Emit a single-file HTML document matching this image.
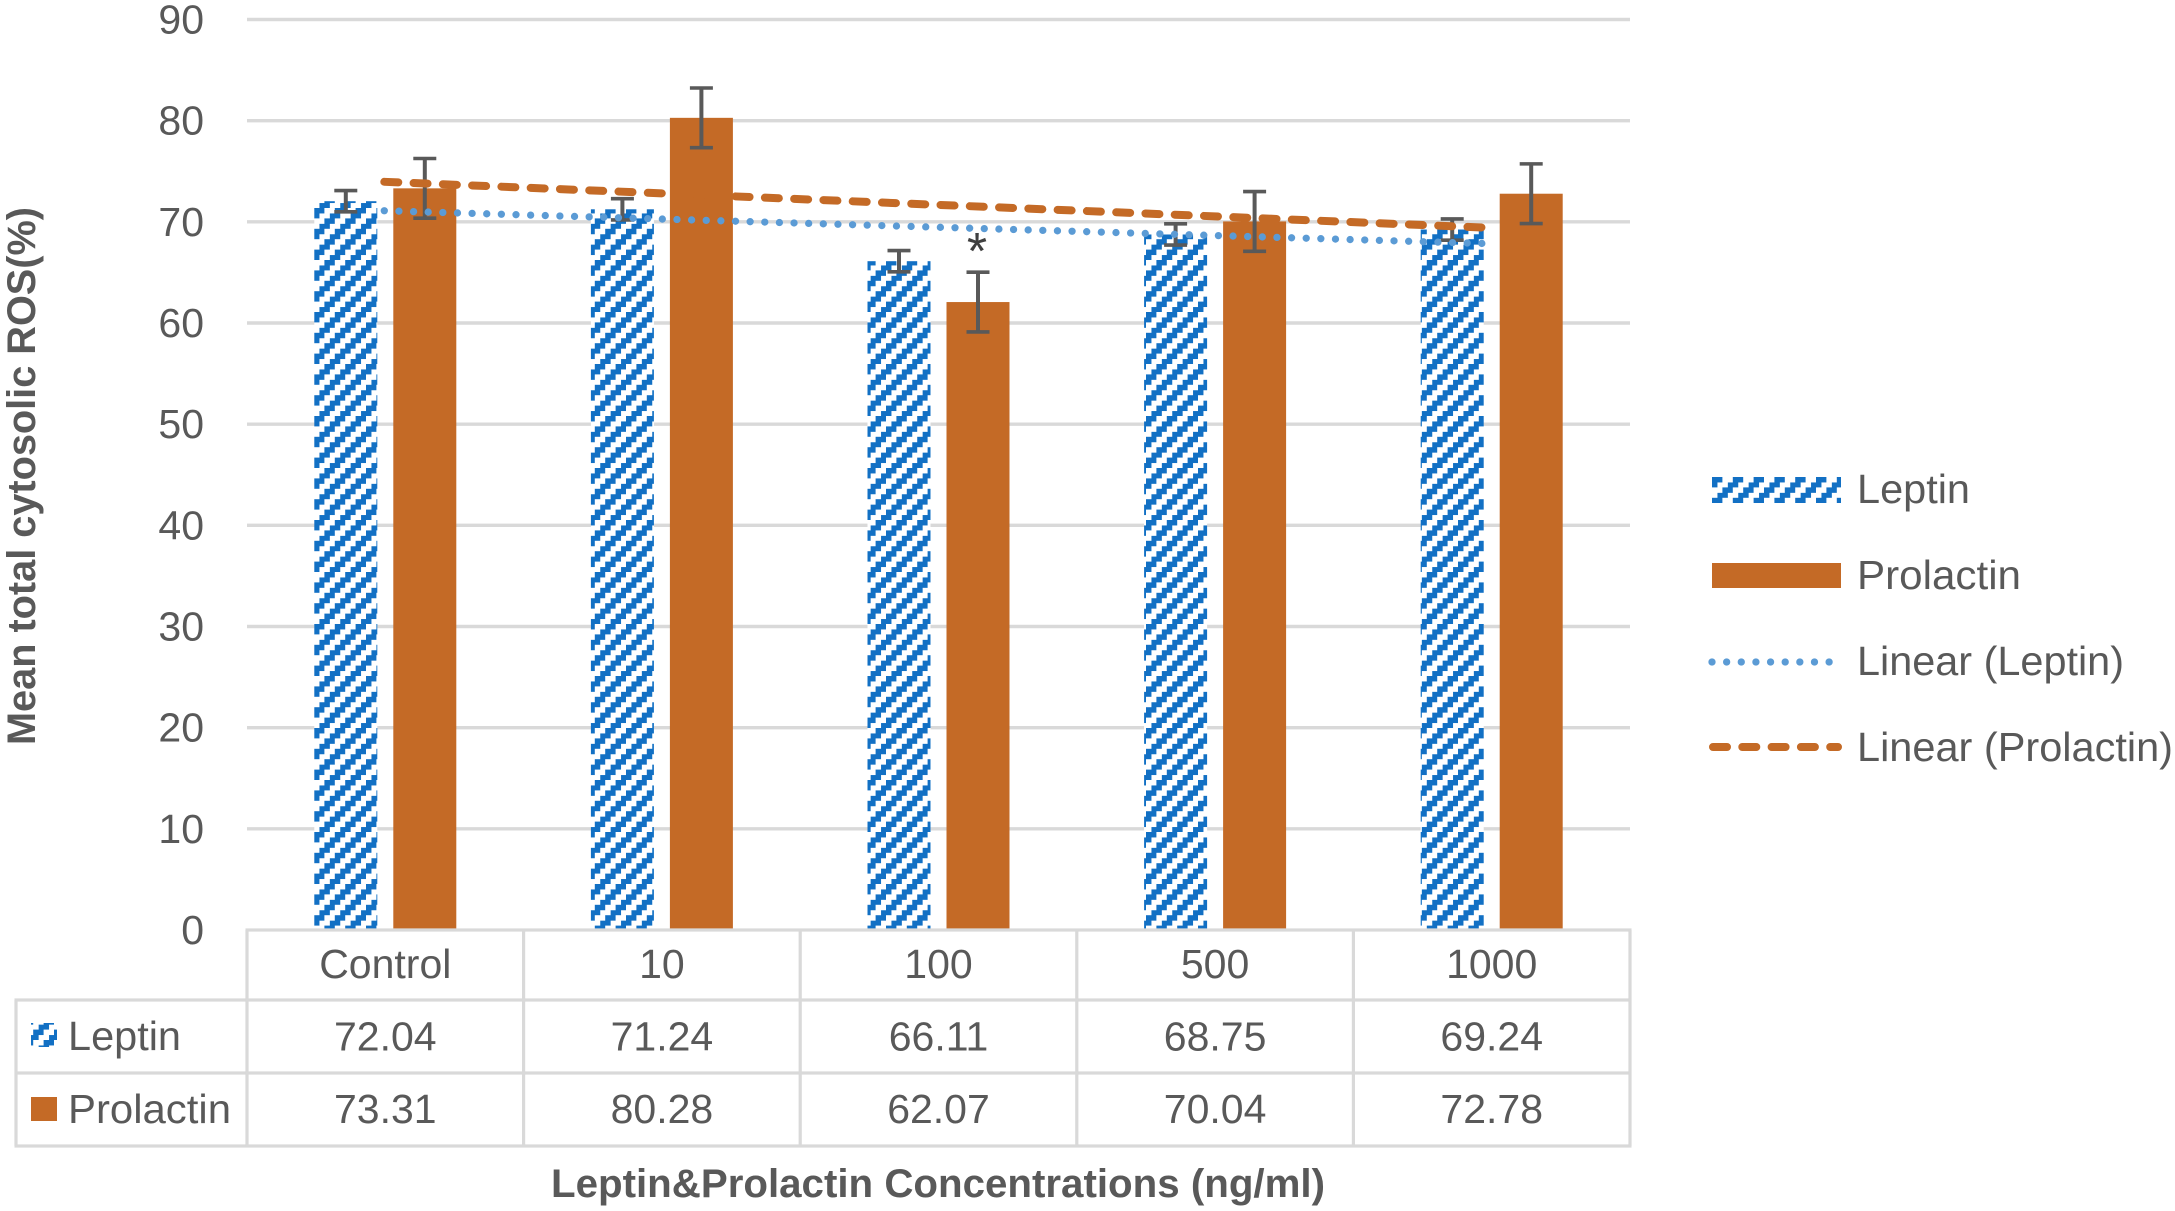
<!DOCTYPE html>
<html lang="en">
<head>
<meta charset="utf-8">
<title>Mean total cytosolic ROS chart</title>
<style>
  html, body { margin: 0; padding: 0; background: #ffffff; }
  svg { display: block; }
  text { font-family: "Liberation Sans", sans-serif; fill: #595959; font-size: 41px; }
  .bold { font-weight: 700; }
</style>
</head>
<body>
<svg id="chart" width="2175" height="1211" viewBox="0 0 2175 1211" xmlns="http://www.w3.org/2000/svg">
  <defs>
    <pattern id="hatch" patternUnits="userSpaceOnUse" x="314" y="0" width="20.8" height="20.8">
      <rect width="20.8" height="20.8" fill="#ffffff"/>
      <g fill="#1270c4" shape-rendering="crispEdges">
        <rect x="0" y="0" width="5.2" height="5.2"/><rect x="5.2" y="0" width="5.2" height="5.2"/>
        <rect x="15.6" y="5.2" width="5.2" height="5.2"/><rect x="0" y="5.2" width="5.2" height="5.2"/>
        <rect x="10.4" y="10.4" width="5.2" height="5.2"/><rect x="15.6" y="10.4" width="5.2" height="5.2"/>
        <rect x="5.2" y="15.6" width="5.2" height="5.2"/><rect x="10.4" y="15.6" width="5.2" height="5.2"/>
      </g>
    </pattern>
    <pattern id="hatch-legend" patternUnits="userSpaceOnUse" x="1712" y="477" width="20.8" height="20.8">
      <rect width="20.8" height="20.8" fill="#ffffff"/>
      <g fill="#1270c4" shape-rendering="crispEdges">
        <rect x="0" y="0" width="5.2" height="5.2"/><rect x="5.2" y="0" width="5.2" height="5.2"/>
        <rect x="15.6" y="5.2" width="5.2" height="5.2"/><rect x="0" y="5.2" width="5.2" height="5.2"/>
        <rect x="10.4" y="10.4" width="5.2" height="5.2"/><rect x="15.6" y="10.4" width="5.2" height="5.2"/>
        <rect x="5.2" y="15.6" width="5.2" height="5.2"/><rect x="10.4" y="15.6" width="5.2" height="5.2"/>
      </g>
    </pattern>
  </defs>

  <g id="grid"></g>
  <g id="yticks"></g>
  <g id="bars"></g>
  <g id="errors"></g>
  <g id="trends"></g>
  <g id="table"></g>

  <text x="977" y="269" text-anchor="middle" style="font-size:52px;fill:#404040">*</text>

  <rect x="31" y="1023" width="26" height="24" fill="url(#hatch)"/>
  <rect x="31" y="1097" width="26" height="24" fill="#c46a26"/>
  <text x="68" y="1050" textLength="113" lengthAdjust="spacingAndGlyphs">Leptin</text>
  <text x="68" y="1123" textLength="163" lengthAdjust="spacingAndGlyphs">Prolactin</text>

  <text class="bold" transform="translate(35,745) rotate(-90)" textLength="538" lengthAdjust="spacingAndGlyphs" style="font-size:40px">Mean total cytosolic ROS(%)</text>
  <text class="bold" x="551" y="1197" textLength="774" lengthAdjust="spacingAndGlyphs" style="font-size:40px">Leptin&amp;Prolactin Concentrations (ng/ml)</text>

  <g>
    <g>
      <rect x="1712" y="477" width="129" height="26" fill="url(#hatch-legend)"/>
      <text x="1857" y="503" textLength="113" lengthAdjust="spacingAndGlyphs">Leptin</text>
    </g>
    <g>
      <rect x="1712" y="563" width="129" height="25" fill="#c46a26"/>
      <text x="1857" y="589" textLength="164" lengthAdjust="spacingAndGlyphs">Prolactin</text>
    </g>
    <g>
      <line x1="1712" y1="662" x2="1832" y2="662" stroke="#5b9bd5" stroke-width="7.3" stroke-linecap="round" stroke-dasharray="0 14.64"/>
      <text x="1857" y="675" textLength="267" lengthAdjust="spacingAndGlyphs">Linear (Leptin)</text>
    </g>
    <g>
      <line x1="1713" y1="747" x2="1838" y2="747" stroke="#c46a26" stroke-width="8" stroke-linecap="round" stroke-dasharray="14 15.3"/>
      <text x="1857" y="761" textLength="316" lengthAdjust="spacingAndGlyphs">Linear (Prolactin)</text>
    </g>
  </g>
</svg>

<script>
var categories = ["Control", "10", "100", "500", "1000"];
var leptinValues = [72.04, 71.24, 66.11, 68.75, 69.24];
var prolactinValues = [73.31, 80.28, 62.07, 70.04, 72.78];
var leptinErrors = [1.05, 1.05, 1.05, 1.05, 1.05];
var prolactinErrors = [2.95, 2.95, 2.95, 2.95, 2.95];
var yTickValues = [0, 10, 20, 30, 40, 50, 60, 70, 80, 90];

var NS = "http://www.w3.org/2000/svg";
var plotLeft = 247, plotRight = 1630, plotBottom = 930, plotTop = 19.5, yMax = 90;
var barWidth = 63, barOffset = 39.5, capHalf = 11.5;

function yScale(v) { return plotBottom - (v / yMax) * (plotBottom - plotTop); }
function colWidth() { return (plotRight - plotLeft) / categories.length; }
function xCenter(i) { return plotLeft + colWidth() * (i + 0.5); }
function make(tag, parent) {
  var el = document.createElementNS(NS, tag);
  parent.appendChild(el);
  return el;
}
function setAll(el, props) {
  for (var k in props) { el.setAttribute(k, props[k]); }
}
function regression(values) {
  var n = values.length, mx = (n - 1) / 2, my = 0, sxy = 0, sxx = 0;
  values.forEach(function (v) { my += v / n; });
  values.forEach(function (v, i) { sxy += (i - mx) * (v - my); sxx += (i - mx) * (i - mx); });
  var slope = sxy / sxx;
  return function (i) { return my + slope * (i - mx); };
}

var gridG = document.getElementById("grid");
var tickG = document.getElementById("yticks");
yTickValues.forEach(function (t) {
  if (t !== 0) {
    var ln = make("line", gridG);
    
    
    setAll(ln, { x1: plotLeft, x2: plotRight, y1: yScale(t), y2: yScale(t), stroke: "#d9d9d9", "stroke-width": 3.4 });
  }
  var tx = make("text", tickG);
  
  
  setAll(tx, { x: 204, y: yScale(t) + 14, "text-anchor": "end" });
  tx.textContent = String(t);
});

var barsG = document.getElementById("bars");
var errG = document.getElementById("errors");

function drawError(cx, value, err, name) {
  var g = make("g", errG);
  
  
  var y1 = yScale(value + err), y2 = yScale(value - err);
  var stem = make("line", g);
  setAll(stem, { x1: cx, x2: cx, y1: y1, y2: y2, stroke: "#595959", "stroke-width": 4 });
  var capTop = make("line", g);
  setAll(capTop, { x1: cx - capHalf, x2: cx + capHalf, y1: y1, y2: y1, stroke: "#595959", "stroke-width": 3.6 });
  var capBottom = make("line", g);
  setAll(capBottom, { x1: cx - capHalf, x2: cx + capHalf, y1: y2, y2: y2, stroke: "#595959", "stroke-width": 3.6 });
}

categories.forEach(function (c, i) {
  var cx = xCenter(i);
  var lx = cx - barOffset, px = cx + barOffset;
  var lb = make("rect", barsG);
  
  
  setAll(lb, { x: lx - barWidth / 2, width: barWidth, y: yScale(leptinValues[i]), height: plotBottom - yScale(leptinValues[i]), fill: "url(#hatch)" });
  var pb = make("rect", barsG);
  
  
  setAll(pb, { x: px - barWidth / 2, width: barWidth, y: yScale(prolactinValues[i]), height: plotBottom - yScale(prolactinValues[i]), fill: "#c46a26" });
  drawError(lx, leptinValues[i], leptinErrors[i], 'error-bar-leptin-' + c.toLowerCase());
  drawError(px, prolactinValues[i], prolactinErrors[i], 'error-bar-prolactin-' + c.toLowerCase());
});

var trendsG = document.getElementById("trends");
var lastIdx = categories.length - 1;
var fitL = regression(leptinValues);
var fitP = regression(prolactinValues);
var trendL = make("line", trendsG);


setAll(trendL, { x1: xCenter(0) - 1, y1: yScale(fitL(0)), x2: xCenter(lastIdx) - 8.5, y2: yScale(fitL(lastIdx)), stroke: "#5b9bd5", "stroke-width": 7.3, "stroke-linecap": "round", "stroke-dasharray": "0 14.64" });
var trendP = make("line", trendsG);


setAll(trendP, { x1: xCenter(0) - 1, y1: yScale(fitP(0)), x2: xCenter(lastIdx) - 9, y2: yScale(fitP(lastIdx)), stroke: "#c46a26", "stroke-width": 8, "stroke-linecap": "round", "stroke-dasharray": "14 15.3" });

var tableG = document.getElementById("table");
var rowY = [930, 1000, 1073, 1146];
rowY.forEach(function (y, r) {
  var h = make("line", tableG);
  
  
  setAll(h, { x1: r === 0 ? plotLeft - 1.5 : 14.5, x2: plotRight + 1.5, y1: y, y2: y, stroke: "#d9d9d9", "stroke-width": 3.2 });
});
var leftEdge = make("line", tableG);


setAll(leftEdge, { x1: 16, x2: 16, y1: 1000, y2: 1146, stroke: "#d9d9d9", "stroke-width": 3.2 });
for (var ci = 0; ci <= categories.length; ci++) {
  var v = make("line", tableG);
  
  
  var vx = plotLeft + colWidth() * ci;
  setAll(v, { x1: vx, x2: vx, y1: 930, y2: 1146, stroke: "#d9d9d9", "stroke-width": 3.2 });
}
categories.forEach(function (c, i) {
  var cx = xCenter(i);
  var head = make("text", tableG);
  
  
  setAll(head, { x: cx, y: 978, "text-anchor": "middle" });
  head.textContent = c;
  var a = make("text", tableG);
  
  
  setAll(a, { x: cx, y: 1050.5, "text-anchor": "middle" });
  a.textContent = leptinValues[i].toFixed(2);
  var b = make("text", tableG);
  
  
  setAll(b, { x: cx, y: 1123, "text-anchor": "middle" });
  b.textContent = prolactinValues[i].toFixed(2);
});
</script>
</body>
</html>
